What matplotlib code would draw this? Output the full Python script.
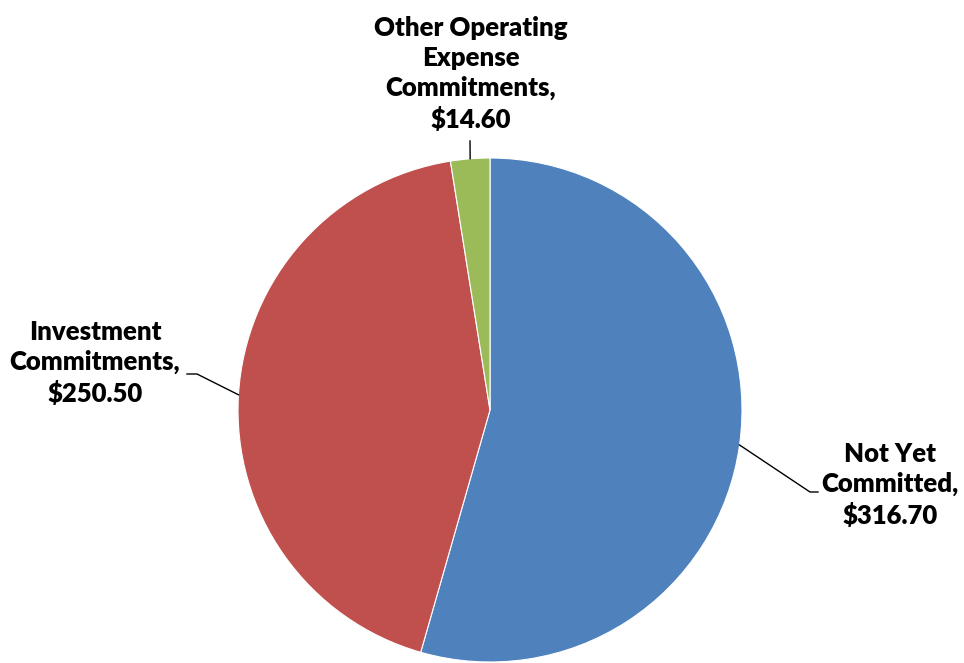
import matplotlib.pyplot as plt
import numpy as np

labels = ['Not Yet\nCommitted,\n$316.70',
          'Investment\nCommitments,\n$250.50',
          'Other Operating\nExpense\nCommitments,\n$14.60']
values = [316.70, 250.50, 14.60]
colors = ['#4F81BD', '#C0504D', '#9BBB59']

fig = plt.figure(figsize=(9.64, 6.63), dpi=100)
ax = fig.add_axes([0, 0, 1, 1])

cx, cy, r = 490, 663 - 410, 252
wedges, _ = ax.pie(values, colors=colors, startangle=90, counterclock=False,
                   center=(cx, cy), radius=r, frame=True,
                   wedgeprops=dict(edgecolor='white', linewidth=0.8))
ax.set_xlim(0, 964)
ax.set_ylim(0, 663)
ax.set_aspect('equal')
ax.axis('off')

# label positions (text centre) and leader elbows
text_pos = [(890, 663 - 485), (95, 663 - 363), (471, 663 - 74)]
elbows = [[(810, 663 - 492), (818, 663 - 492)],
          [(197, 663 - 374), (187, 663 - 374)],
          [(470, 663 - 141)]]

for w, lab, tp, el in zip(wedges, labels, text_pos, elbows):
    ang = np.deg2rad((w.theta1 + w.theta2) / 2)
    px, py = cx + r * np.cos(ang), cy + r * np.sin(ang)
    xs = [px] + [p[0] for p in el]
    ys = [py] + [p[1] for p in el]
    ax.plot(xs, ys, color='black', lw=1)
    ax.text(tp[0], tp[1], lab, ha='center', va='center', fontsize=18.5,
            fontweight='heavy', family=['Lato', 'DejaVu Sans'], linespacing=1.3)

plt.savefig('out.png', dpi=100)
